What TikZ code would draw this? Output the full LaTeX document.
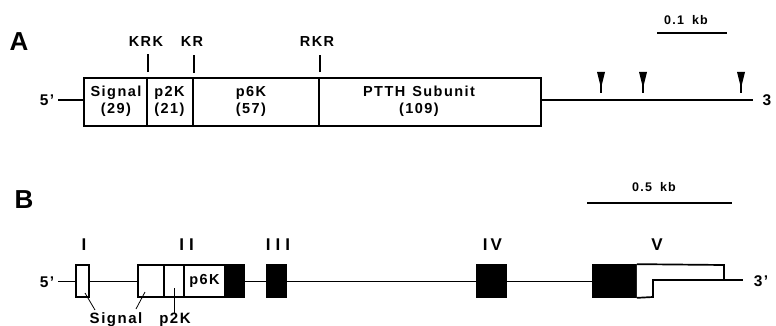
\documentclass[tikz,border=0pt]{standalone}
\usepackage{fontspec}
\setmainfont{Liberation Sans}[LetterSpace=10]
\newfontfamily\heavy{Liberation Sans}[LetterSpace=0]
\begin{document}
\begin{tikzpicture}[x=1pt,y=-1pt,
  lab/.style={font=\bfseries\fontsize{14.5}{17}\selectfont, inner sep=0pt},
  roman/.style={font=\bfseries\fontsize{17}{17}\selectfont, inner sep=0pt},
  scl/.style={font=\bfseries\fontsize{12.5}{13}\selectfont, inner sep=0pt},
  big/.style={font=\heavy\bfseries\fontsize{26}{26}\selectfont, inner sep=0pt},
  prime/.style={font=\bfseries\fontsize{15.5}{15}\selectfont, inner sep=0pt},
  segA/.style={draw, line width=1.7pt, minimum height=48pt, inner sep=0pt},
  exwhite/.style={draw, fill=white, line width=1.7pt, minimum height=32pt, inner sep=0pt},
  exblack/.style={draw, fill=black, line width=1.7pt, minimum height=32pt, inner sep=0pt},
  wire/.style={line width=1.6pt},
  thin/.style={line width=0.8pt}]
\useasboundingbox (0,0) rectangle (776,326);

% ---------------- Panel A ----------------
\node[big] (A) at (19,42) {A};
\node[segA, minimum width=63pt]  (sig)  at (115.5,102) {};
\node[segA, minimum width=46pt]  (p2k)  at (170,102) {};
\node[segA, minimum width=126pt] (p6k)  at (256,102) {};
\node[segA, minimum width=222pt] (ptth) at (430,102) {};
\node[lab, align=center] (tsig) at (116,101.5) {Signal\\(29)};
\node[lab, align=center] (tp2k) at (169.5,101.5) {p2K\\(21)};
\node[lab, align=center] (tp6k) at (251,101.5) {p6K\\(57)};
\node[lab, align=center] (tptth) at (419,101.5) {PTTH\hspace{7pt}Subunit\\(109)};

\node[lab] (krk) at (146,42) {KRK};
\node[lab] (kr)  at (192,42) {KR};
\node[lab] (rkr) at (317,42) {RKR};
\draw[wire] (sig.north east) ++(0,-5) -- ++(0,-18);
\draw[wire] (p2k.north east) ++(0,-4) -- ++(0,-18);
\draw[wire] (p6k.north east) ++(0,-5) -- ++(0,-17);

\node[prime] (fiveA) at (47,100) {5'};
\coordinate (fiveAe) at (58,100);
\draw[wire] (fiveAe) -- (fiveAe -| sig.west);
\node[prime] (threeA) at (767,100) {3};
\coordinate (threeAw) at (753,100);
\draw[wire] (threeAw -| ptth.east) -- (threeAw);

\foreach \x in {601,643,741}{
  \fill (\x-4,72) -- (\x+4,72) -- (\x,88) -- cycle;
  \draw[line width=1.3pt] (\x,72) -- (\x,93);
}

\node[scl] (kbA) at (686,20) {0.1\hspace{8pt}kb};
\coordinate (sbA1) at (657,33);
\coordinate (sbA2) at (727,33);
\draw[wire] (sbA1) -- (sbA2);

% ---------------- Panel B ----------------
\node[big] (B) at (24,200) {B};

\node[prime] (fiveB) at (47,282) {5'};
\coordinate (fiveBe) at (58,281.5);
\node[exwhite, minimum width=13pt] (ex1) at (82.5,281) {};
\node[exwhite, minimum width=26pt] (ex2a) at (151,281) {};
\node[exwhite, minimum width=20pt] (ex2b) at (174,281) {};
\node[exwhite, minimum width=41pt, font=\bfseries\fontsize{14.5}{14}\selectfont] (ex2c) at (204.5,281) {p6K};
\node[exblack, minimum width=19pt] (ex2d) at (234.5,281) {};
\node[exblack, minimum width=19pt] (ex3) at (276.5,281) {};
\node[exblack, minimum width=29pt] (ex4) at (491.5,281) {};
\node[exblack, minimum width=43pt] (ex5) at (614.5,281) {};
\coordinate (v1) at (724,265);
\coordinate (v2) at (724,280);
\coordinate (v3) at (653,280);
\coordinate (v4) at (653,297);
\draw[line width=1.7pt, fill=white, line join=miter] (ex5.north east) -- (v1) -- (v2) -- (v3) -- (v4) -- (ex5.south east);
\node[prime] (threeB) at (761,281) {3'};
\coordinate (threeBw) at (743,280);

\draw[wire] (fiveBe) -- (fiveBe -| ex1.west);
\draw[wire] (ex1.east |- fiveBe) -- (ex2a.west |- fiveBe);
\draw[wire] (ex2d.east |- fiveBe) -- (ex3.west |- fiveBe);
\draw[wire] (ex3.east |- fiveBe) -- (ex4.west |- fiveBe);
\draw[wire] (ex4.east |- fiveBe) -- (ex5.west |- fiveBe);
\draw[wire] (v2) -- (threeBw);

\node[roman] (rI)   at (84,244.5)  {I};
\node[roman] (rII)  at (186.5,244.5) {I\hspace{5pt}I};
\node[roman] (rIII) at (278,244.5) {I\hspace{5pt}I\hspace{5pt}I};
\node[roman] (rIV)  at (492.5,244.5) {I\hspace{3pt}V};
\node[roman] (rV)   at (657,244.5) {V};

\node[scl] (kbB) at (654,187) {0.5\hspace{8pt}kb};
\coordinate (sbB1) at (587,203);
\coordinate (sbB2) at (732,203);
\draw[wire] (sbB1) -- (sbB2);

\node[lab, font=\bfseries\fontsize{15}{15}\selectfont] (lsig) at (116,320) {Signal};
\node[lab, font=\bfseries\fontsize{15}{15}\selectfont] (lp2k) at (175,320) {p2K};
\coordinate (s1) at (85,293);
\coordinate (s2) at (145,292);
\coordinate (s3) at (174,288);
\coordinate (s1e) at (95,310);
\coordinate (s2e) at (136,309);
\draw[thin] (s1) -- (s1e);
\draw[thin] (s2) -- (s2e);
\draw[thin] (s3) -- (lp2k.north -| s3);
\end{tikzpicture}
\end{document}
